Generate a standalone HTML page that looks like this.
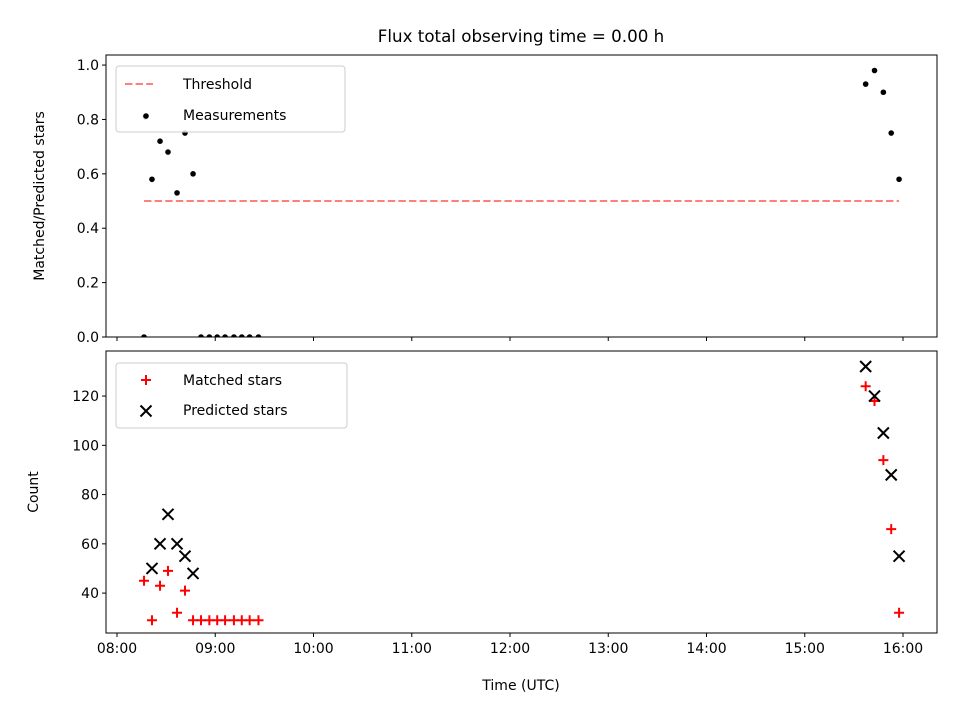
<!DOCTYPE html>
<html><head><meta charset="utf-8"><style>
body{margin:0;background:#fff;overflow:hidden}
svg{font-family:"DejaVu Sans","Liberation Sans",sans-serif;display:block}
</style></head><body>
<svg id="c" width="960" height="720" viewBox="0 0 960 720">
<text x="521" y="42" text-anchor="middle" font-size="16.7">Flux total observing time = 0.00 h</text>
</svg>
<script>
const measTimes=[8.275,8.29,8.356,8.438,8.519,8.611,8.692,8.774,8.855,8.94,9.02,9.10,9.19,9.27,9.35,9.44,15.62,15.71,15.80,15.88,15.96];
const measVals=[0,0.81,0.58,0.72,0.68,0.53,0.75,0.60,0,0,0,0,0,0,0,0,0.93,0.98,0.90,0.75,0.58];
const matchTimes=[8.275,8.356,8.438,8.519,8.611,8.692,8.774,8.855,8.94,9.02,9.10,9.19,9.27,9.35,9.44,15.62,15.71,15.80,15.88,15.96];
const matchVals=[45,29,43,49,32,41,29,29,29,29,29,29,29,29,29,124,118,94,66,32];
const predTimes=[8.356,8.438,8.519,8.611,8.692,8.774,15.62,15.71,15.80,15.88,15.96];
const predVals=[50,60,72,60,55,48,132,120,105,88,55];
const threshold=[0.5];
const xTicks=[8,9,10,11,12,13,14,15,16];
const xTickLabels=["08:00","09:00","10:00","11:00","12:00","13:00","14:00","15:00","16:00"];
const yTopTicks=[0,0.2,0.4,0.6,0.8,1.0];
const yBotTicks=[40,60,80,100,120];

const svg=document.getElementById('c');
const NS='http://www.w3.org/2000/svg';
function mk(tag,attrs,parent){const e=document.createElementNS(NS,tag);for(const k in attrs)e.setAttribute(k,attrs[k]);(parent||svg).appendChild(e);return e;}
const L=106,R=937,xmin=7.888,xmax=16.346;
const X=t=>L+(t-xmin)/(xmax-xmin)*(R-L);
const T1=55,B1=337,y1min=0,y1max=1.037;
const Y1=v=>B1-(v-y1min)/(y1max-y1min)*(B1-T1);
const T2=351,B2=633,y2min=23.8,y2max=138.3;
const Y2=v=>B2-(v-y2min)/(y2max-y2min)*(B2-T2);

const defs=mk('defs',{});
const cp1=mk('clipPath',{id:'cp1'},defs);mk('rect',{x:L,y:T1,width:R-L,height:B1-T1},cp1);
const cp2=mk('clipPath',{id:'cp2'},defs);mk('rect',{x:L,y:T2,width:R-L,height:B2-T2},cp2);

const g1=mk('g',{'clip-path':'url(#cp1)'});


const th=mk('line',{x1:X(measTimes[0]),x2:X(measTimes[measTimes.length-1]),y1:Y1(threshold[0]),y2:Y1(threshold[0]),stroke:'#ff7f7f','stroke-width':2,'stroke-dasharray':'7.4,3.2'},g1);


measTimes.forEach((t,i)=>{
  const c=mk('circle',{cx:X(t),cy:Y1(measVals[i]),r:2.8,fill:'#000'},g1);
  
  
});
const f1=mk('rect',{x:L,y:T1,width:R-L,height:B1-T1,fill:'none',stroke:'#000','stroke-width':1});



const g2=mk('g',{'clip-path':'url(#cp2)'});


function plus(x,y,p,col){const s=5;return mk('path',{d:`M${x-s},${y}H${x+s}M${x},${y-s}V${y+s}`,stroke:col,'stroke-width':2,fill:'none'},p);}
function cross(x,y,p,col){const s=5.5;return mk('path',{d:`M${x-s},${y-s}L${x+s},${y+s}M${x-s},${y+s}L${x+s},${y-s}`,stroke:col,'stroke-width':2,fill:'none'},p);}
matchTimes.forEach((t,i)=>{
  const e=plus(X(t),Y2(matchVals[i]),g2,'#ff0000');
  
  
});
predTimes.forEach((t,i)=>{
  const e=cross(X(t),Y2(predVals[i]),g2,'#000');
  
  
});
const f2=mk('rect',{x:L,y:T2,width:R-L,height:B2-T2,fill:'none',stroke:'#000','stroke-width':1});



xTicks.forEach((t,i)=>{
  const x=X(t);
  mk('line',{x1:x,x2:x,y1:B1,y2:B1+4,stroke:'#000'});
  mk('line',{x1:x,x2:x,y1:B2,y2:B2+4,stroke:'#000'});
  const tx=mk('text',{x:x,y:B2+20,'text-anchor':'middle','font-size':14});
  tx.textContent=xTickLabels[i];
  
  
});
yTopTicks.forEach(v=>{
  const y=Y1(v);
  mk('line',{x1:L-4,x2:L,y1:y,y2:y,stroke:'#000'});
  const tx=mk('text',{x:L-7,y:y+5,'text-anchor':'end','font-size':14});
  tx.textContent=v.toFixed(1);
  
  
});
yBotTicks.forEach(v=>{
  const y=Y2(v);
  mk('line',{x1:L-4,x2:L,y1:y,y2:y,stroke:'#000'});
  const tx=mk('text',{x:L-7,y:y+5,'text-anchor':'end','font-size':14});
  tx.textContent=String(v);
  
  
});

let t;
t=mk('text',{x:521,y:690,'text-anchor':'middle','font-size':14});t.textContent='Time (UTC)';


t=mk('text',{x:44,y:196,'text-anchor':'middle','font-size':14,transform:'rotate(-90 44 196)'});t.textContent='Matched/Predicted stars';


t=mk('text',{x:38,y:492,'text-anchor':'middle','font-size':14,transform:'rotate(-90 38 492)'});t.textContent='Count';



const lg1=mk('g',{});


mk('rect',{x:116,y:66,width:229,height:66,rx:3,fill:'#fff','fill-opacity':0.8,stroke:'#ccc'},lg1);
mk('line',{x1:125,x2:153,y1:84,y2:84,stroke:'#ff7f7f','stroke-width':2,'stroke-dasharray':'7.4,3.2'},lg1);
t=mk('text',{x:183,y:89,'font-size':14},lg1);t.textContent='Threshold';


mk('circle',{cx:146,cy:116,r:2.8,fill:'#000'},lg1);
t=mk('text',{x:183,y:120,'font-size':14},lg1);t.textContent='Measurements';



const lg2=mk('g',{});


mk('rect',{x:116,y:363,width:231,height:65,rx:3,fill:'#fff','fill-opacity':0.8,stroke:'#ccc'},lg2);
mk('path',{d:'M141,380H151M146,375V385',stroke:'#f00','stroke-width':2},lg2);
t=mk('text',{x:183,y:385,'font-size':14},lg2);t.textContent='Matched stars';


mk('path',{d:'M140.5,405.5L151.5,416.5M140.5,416.5L151.5,405.5',stroke:'#000','stroke-width':2},lg2);
t=mk('text',{x:183,y:415,'font-size':14},lg2);t.textContent='Predicted stars';


</script>
</body></html>
